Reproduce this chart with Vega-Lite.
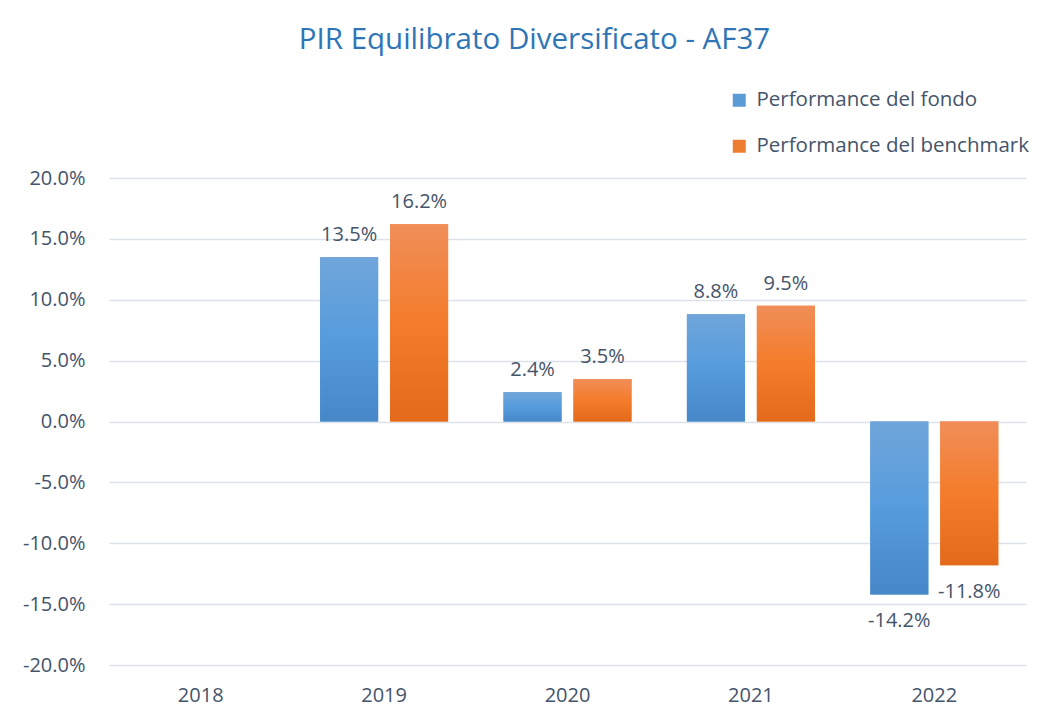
{
  "$schema": "https://vega.github.io/schema/vega-lite/v6.json",
  "width": 917,
  "height": 487,
  "autosize": {"type": "none"},
  "padding": {"left": 109, "top": 178, "right": 21, "bottom": 57},
  "background": "white",
  "title": {
    "text": "PIR Equilibrato Diversificato - AF37",
    "font": "Open Sans",
    "fontSize": 29.5,
    "fontWeight": "normal",
    "color": "#2E75B6",
    "anchor": "middle",
    "frame": "group",
    "dx": -33,
    "offset": 35
  },
  "data": {
    "values": [
      {"year": "2019", "series": "Performance del fondo", "value": 0.135},
      {"year": "2019", "series": "Performance del benchmark", "value": 0.162},
      {"year": "2020", "series": "Performance del fondo", "value": 0.024},
      {"year": "2020", "series": "Performance del benchmark", "value": 0.035},
      {"year": "2021", "series": "Performance del fondo", "value": 0.088},
      {"year": "2021", "series": "Performance del benchmark", "value": 0.095},
      {"year": "2022", "series": "Performance del fondo", "value": -0.142},
      {"year": "2022", "series": "Performance del benchmark", "value": -0.118}
    ]
  },
  "transform": [
    {"calculate": "replace(format(datum.value, '.1%'), '\u2212', '-')", "as": "label"}
  ],
  "encoding": {
    "x": {
      "field": "year", "type": "nominal",
      "scale": {"domain": ["2018", "2019", "2020", "2021", "2022"], "paddingInner": 0.302, "paddingOuter": 0.151},
      "axis": {
        "title": null, "labelAngle": 0, "domain": false, "ticks": false,
        "labelFont": "Open Sans", "labelFontSize": 20, "labelColor": "#44546A",
        "labelPadding": 20
      }
    },
    "xOffset": {
      "field": "series", "type": "nominal",
      "scale": {"domain": ["Performance del fondo", "Performance del benchmark"], "paddingInner": 0.17, "paddingOuter": 0}
    },
    "y": {
      "field": "value", "type": "quantitative",
      "scale": {"domain": [-0.2, 0.2], "nice": false, "zero": true},
      "axis": {
        "title": null, "values": [-0.2, -0.15, -0.1, -0.05, 0, 0.05, 0.1, 0.15, 0.2],
        "labelExpr": "replace(format(datum.value, '.1%'), '\u2212', '-')",
        "domain": false, "ticks": false,
        "labelFont": "Open Sans", "labelFontSize": 20, "labelColor": "#44546A",
        "labelPadding": 24,
        "grid": true, "gridColor": "#DDE2EA", "gridWidth": 1.5
      }
    }
  },
  "layer": [
    {
      "mark": {"type": "bar"},
      "encoding": {
        "color": {
          "field": "series", "type": "nominal",
          "scale": {"domain": ["Performance del fondo", "Performance del benchmark"], "range": ["#5B9BD5", "#ED7D31"]},
          "legend": {
            "title": null, "orient": "none", "legendX": 620, "legendY": -88,
            "symbolType": "square", "symbolSize": 169, "symbolStrokeWidth": 0,
            "labelFont": "Open Sans", "labelFontSize": 20.5, "labelColor": "#44546A",
            "rowPadding": 25, "labelOffset": 7, "labelLimit": 400
          }
        }
      }
    },
    {
      "transform": [{"filter": "datum.series === 'Performance del fondo'"}],
      "mark": {
        "type": "bar",
        "color": {
          "gradient": "linear", "x1": 0, "y1": 0, "x2": 0, "y2": 1,
          "stops": [
            {"offset": 0, "color": "#70A5DA"},
            {"offset": 0.5, "color": "#569CDD"},
            {"offset": 1, "color": "#4687C8"}
          ]
        }
      }
    },
    {
      "transform": [{"filter": "datum.series === 'Performance del benchmark'"}],
      "mark": {
        "type": "bar",
        "color": {
          "gradient": "linear", "x1": 0, "y1": 0, "x2": 0, "y2": 1,
          "stops": [
            {"offset": 0, "color": "#F08E59"},
            {"offset": 0.5, "color": "#F47C2B"},
            {"offset": 1, "color": "#E36A1A"}
          ]
        }
      }
    },
    {
      "transform": [{"filter": "datum.value >= 0"}],
      "mark": {"type": "text", "baseline": "bottom", "dy": -12, "font": "Open Sans", "fontSize": 20, "color": "#44546A"},
      "encoding": {"text": {"field": "label"}}
    },
    {
      "transform": [{"filter": "datum.value < 0"}],
      "mark": {"type": "text", "baseline": "top", "dy": 17, "font": "Open Sans", "fontSize": 20, "color": "#44546A"},
      "encoding": {"text": {"field": "label"}}
    }
  ],
  "config": {"view": {"stroke": null}}
}
